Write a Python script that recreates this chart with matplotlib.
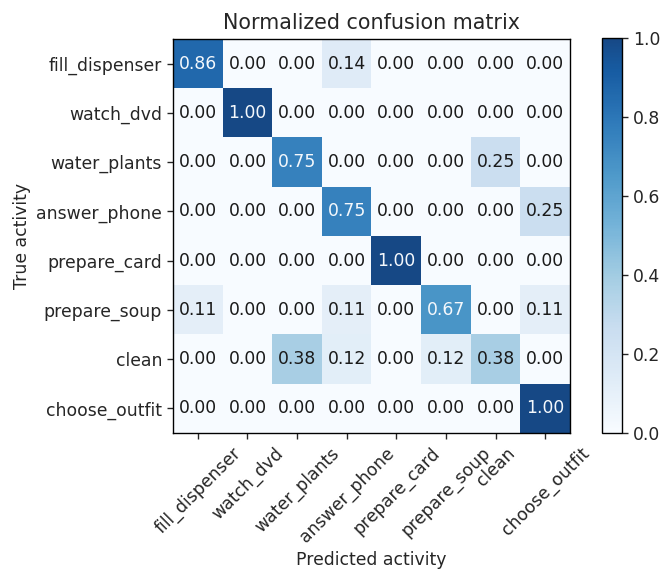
import numpy as np
import matplotlib
matplotlib.use("Agg")
import matplotlib.pyplot as plt
from matplotlib.colors import ListedColormap

classes = ["fill_dispenser", "watch_dvd", "water_plants", "answer_phone",
           "prepare_card", "prepare_soup", "clean", "choose_outfit"]
cm = np.array([
    [0.86, 0.00, 0.00, 0.14, 0.00, 0.00, 0.00, 0.00],
    [0.00, 1.00, 0.00, 0.00, 0.00, 0.00, 0.00, 0.00],
    [0.00, 0.00, 0.75, 0.00, 0.00, 0.00, 0.25, 0.00],
    [0.00, 0.00, 0.00, 0.75, 0.00, 0.00, 0.00, 0.25],
    [0.00, 0.00, 0.00, 0.00, 1.00, 0.00, 0.00, 0.00],
    [0.11, 0.00, 0.00, 0.11, 0.00, 0.67, 0.00, 0.11],
    [0.00, 0.00, 0.38, 0.12, 0.00, 0.12, 0.38, 0.00],
    [0.00, 0.00, 0.00, 0.00, 0.00, 0.00, 0.00, 1.00],
])
cbar_ticks = [0.0, 0.2, 0.4, 0.6, 0.8, 1.0]

s = 1.24
plt.rcParams.update({
    "font.size": 10 * s,
    "xtick.major.size": 3.5 * s,
    "ytick.major.size": 3.5 * s,
    "xtick.major.width": 0.8 * s,
    "ytick.major.width": 0.8 * s,
    "axes.linewidth": 0.8 * s,
    "text.color": "#262626",
    "xtick.color": "#262626",
    "ytick.color": "#262626",
    "axes.labelcolor": "#262626",
})

# Blues, slightly lightened at the dark end to match the reference tone
base = plt.cm.Blues(np.linspace(0, 0.95, 256))
base[:, :3] = base[:, :3] + (1 - base[:, :3]) * 0.06
cmap = ListedColormap(base)

W, H = 661, 572
fig = plt.figure(figsize=(W/100, H/100), dpi=100)
ax = fig.add_axes([173/W, 1-433/H, (570-173)/W, (433-39)/H])
cax = fig.add_axes([602/W, 1-433/H, (622-602)/W, (433-38)/H])

im = ax.imshow(cm, interpolation="nearest", cmap=cmap, vmin=0, vmax=1, aspect="auto")
cb = fig.colorbar(im, cax=cax)
cb.set_ticks(cbar_ticks)
cb.outline.set_linewidth(0.8 * s)

ax.set_title("Normalized confusion matrix", fontsize=12 * s, pad=6 * s)
ticks = np.arange(len(classes))
ax.set_xticks(ticks)
ax.set_xticklabels(classes, rotation=45)
ax.set_yticks(ticks)
ax.set_yticklabels(classes)

thresh = cm.max() / 2.
for i in range(cm.shape[0]):
    for j in range(cm.shape[1]):
        ax.text(j, i, format(cm[i, j], ".2f"), ha="center", va="center",
                color="#f4f8fc" if cm[i, j] > thresh else "#1a1a1a")

ax.set_ylabel("True activity")
ax.set_xlabel("Predicted activity")

fig.savefig("out.png", dpi=100)
